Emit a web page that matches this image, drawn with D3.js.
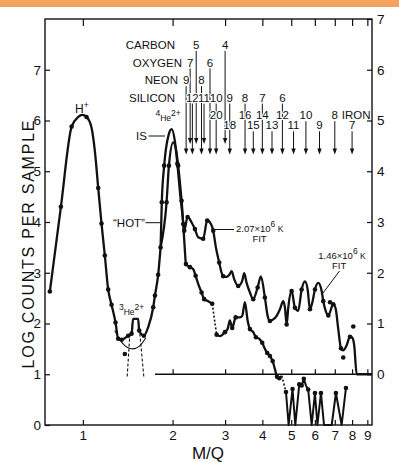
<!DOCTYPE html>
<html><head><meta charset="utf-8">
<script src="https://cdn.jsdelivr.net/npm/d3@7"></script>
<style>
body{margin:0;background:#fff}
svg text{font-family:"Liberation Sans",Arial,sans-serif;fill:#111}
.tick text{font-size:13.5px}
</style></head><body>
<svg id="chart" width="399" height="463"></svg>
<script>
// ---------------- DATA ----------------
const xTicks = [1,2,3,4,5,6,7,8,9];
const xTickLabels = ["1","2","3","4","5","6","7","8","9"];
const leftTicks = [0,1,2,3,4,5,6,7];
const rightTicks = [0,1,2,3,4,5,6,7];
const zeroLineTicks = [2,3,4,5,6,7,8,9];

// main spectrum H+ -> 3He -> rise of 4He : [M/Q, log counts] (measured points)
const mainPoints = [[0.775,2.63],[0.844,4.30],[0.917,5.88],[1.029,6.07],[1.126,4.67],[1.155,3.97],[1.185,3.34],[1.216,2.67],[1.248,2.37],[1.287,2.02],[1.314,1.70],[1.349,1.68],[1.419,1.76],[1.457,1.80],[1.545,1.86],[1.602,1.76],[1.722,2.32],[1.745,2.55],[1.789,2.96],[1.823,3.50]];
const mainKnots = [[0.965,6.07],[0.995,6.11],[1.069,5.86],[1.097,5.40],[1.474,2.09],[1.533,2.09],[1.657,1.93]];

// "HOT" spectrum (2.07e6 K fit) after 4He
const hotPoints = [[1.909,4.39],[1.944,5.11],[2.088,5.11],[2.144,4.42],[2.188,3.83],[2.246,4.10],[2.376,3.86],[2.533,3.67],[2.613,4.03],[2.737,3.83],[2.867,3.20],[2.957,2.93],[3.320,2.74],[3.728,2.48],[3.857,2.71],[4.080,2.51],[4.241,2.05],[4.826,1.98],[5.015,2.64],[5.145,2.31],[5.419,2.67],[5.778,2.28],[6.005,2.67],[6.404,2.44],[6.658,2.16],[6.918,2.38],[7.342,1.51],[7.870,1.74]];
const hotKnots = [[1.823,3.50],[2.009,5.57],[2.05,5.45],[2.317,3.99],[2.437,3.70],[2.689,3.96],[2.794,3.50],[2.920,3.00],[3.036,2.92],[3.090,2.95],[3.155,3.03],[3.220,2.87],[3.424,2.84],[3.477,2.99],[3.542,2.80],[3.634,2.61],[3.956,2.93],[4.167,2.15],[4.351,2.08],[4.467,2.15],[4.582,2.28],[4.702,2.44],[4.764,2.31],[4.886,2.31],[5.278,2.25],[5.559,2.83],[5.676,2.67],[5.882,2.41],[6.161,2.80],[6.324,2.64],[6.524,2.25],[7.047,2.29],[7.190,1.89],[7.473,1.47],[7.672,1.57],[8.011,1.72],[8.136,1.56],[8.288,1.0],[9.33,1.0]];

// "IS" spectrum after 4He
const isPointsA = [[1.840,4.39],[1.874,5.11],[2.075,5.15],[2.171,3.96],[2.217,3.17],[2.287,3.11],[2.389,2.94],[2.502,2.61],[2.553,2.48],[2.716,2.39]];
const isKnotsA = [[1.823,3.50],[1.94,5.72],[1.985,5.83],[2.035,5.60],[2.12,4.55],[2.199,3.44],[2.346,3.07],[2.437,2.78],[2.633,2.44]];
const isGap1 = [[2.716,2.39],[2.810,1.78]];
const isPointsB = [[2.810,1.78],[2.996,1.83],[3.170,1.91],[3.255,2.12],[3.634,1.89],[3.806,1.73],[3.996,1.62],[4.154,1.42],[4.241,1.36],[4.331,1.26],[4.48,0.95],[4.558,0.92]];
const isKnotsB = [[2.882,1.75],[3.059,1.89],[3.114,2.06],[3.364,2.12],[3.424,2.15],[3.496,2.42],[3.570,2.06],[3.728,1.83],[3.90,1.70],[4.08,1.50],[4.409,1.10],[4.645,0.97]];
const isGap2 = [[4.645,0.97],[4.801,0.65]];
const isPointsC = [[4.801,0.65],[5.05,0.71],[5.32,0.80],[5.42,0.78],[5.51,0.91],[5.70,0.70],[6.005,0.63],[6.29,0.63],[7.06,0.63],[7.63,0.73]];
const isKnotsC = [[4.90,0],[5.16,0],[5.60,0.78],[5.855,0],[6.12,0],[6.44,0],[6.835,0],[7.38,0]];

const loneDots = [[1.383,1.40],[6.746,2.42],[7.473,1.33],[8.074,1.94]];

// fits around 3He
const tailFit = [[1.280,1.86],[1.365,1.56],[1.457,1.48],[1.553,1.53],[1.627,1.72]];
const he3FitLeft = [[1.438,1.80],[1.408,0.94]];
const he3FitRight = [[1.553,1.80],[1.602,0.94]];

// ion positions (M/Q) and charge labels
const carbonCharges = [5,4];           const carbonMQ = [2.40,3.00];
const oxygenCharges = [7,6];           const oxygenMQ = [2.29,2.67];
const neonCharges = [9,8];             const neonMQ = [2.22,2.50];
const siliconCharges = [12,11,10,9,8,7,6];
const siliconMQ = [2.33,2.55,2.80,3.11,3.50,4.00,4.67];
const ironCharges = [20,18,16,15,14,13,12,11,10,9,8,7];
const ironMQ = [2.80,3.11,3.50,3.73,4.00,4.31,4.67,5.09,5.60,6.22,7.00,8.00];

// ---------------- CHART ----------------
const svg = d3.select("#chart");
const L=45,R=372,T=19,B=425;
const x = d3.scaleLog().domain([0.7465,9.33]).range([L,R]);
const y = d3.scaleLinear().domain([0,8]).range([B,T]);
const yR = d3.scaleLinear().domain([-1,7]).range([B,T]);
const ink = "#111";

svg.append("rect").attr("x",0).attr("y",0).attr("width",399).attr("height",7).attr("fill","#f5a45d");

// axes
function clean(g){ g.select(".domain").remove(); g.attr("font-family",null).attr("font-size",null); g.selectAll("line").attr("stroke",ink).attr("stroke-width",1.2); }
svg.append("g").attr("transform",`translate(${L},0)`)
  .call(d3.axisLeft(y).tickValues(leftTicks).tickSize(-5).tickPadding(4).tickFormat(d=>String(d))).call(clean);
svg.append("g").attr("transform",`translate(${R},0)`)
  .call(d3.axisRight(yR).tickValues(rightTicks).tickSize(-5).tickPadding(5).tickFormat(d=>String(d))).call(clean);
svg.append("g").attr("transform",`translate(0,${B})`)
  .call(d3.axisBottom(x).tickValues(xTicks).tickSize(-5).tickPadding(5).tickFormat((d,i)=>xTickLabels[i])).call(clean);
svg.append("g").attr("transform",`translate(0,${T})`)
  .call(d3.axisTop(x).tickValues(xTicks).tickSize(-7).tickFormat("")).call(clean);
svg.append("g").attr("transform",`translate(0,${yR(0)})`)
  .call(d3.axisTop(x).tickValues(zeroLineTicks).tickSize(5).tickFormat("")).call(clean);
svg.append("line").attr("x1",x(1.745)).attr("x2",R).attr("y1",yR(0)).attr("y2",yR(0)).attr("stroke",ink).attr("stroke-width",1.4);
svg.append("rect").attr("x",L).attr("y",T).attr("width",R-L).attr("height",B-T).attr("fill","none").attr("stroke",ink).attr("stroke-width",1.4);

// axis titles
svg.append("text").attr("x",208).attr("y",458.5).attr("text-anchor","middle").style("font-size","17px").text("M/Q");
svg.append("text").attr("transform","translate(34,244.5) rotate(-90)").attr("text-anchor","middle")
  .attr("textLength",248).attr("lengthAdjust","spacing").style("font-size","16px").text("LOG COUNTS PER SAMPLE");

// curves
const merge = (a,b)=>a.concat(b).sort((p,q)=>p[0]-q[0]);
const smooth = d3.line().x(d=>x(d[0])).y(d=>y(d[1])).curve(d3.curveMonotoneX);
const straight = d3.line().x(d=>x(d[0])).y(d=>y(d[1]));
function path(data,gen,w,dash){
  svg.append("path").attr("d",gen(data)).attr("fill","none").attr("stroke",ink)
    .attr("stroke-width",w).attr("stroke-linejoin","round").attr("stroke-dasharray",dash||null);
}
path(tailFit,d3.line().x(d=>x(d[0])).y(d=>y(d[1])).curve(d3.curveBasis),1.1);
path(he3FitLeft,straight,1.1,"3,2");
path(he3FitRight,straight,1.1,"3,2");
path(merge(mainPoints,mainKnots),smooth,2.3);
path(merge(hotPoints,hotKnots),smooth,2.3);
path(merge(isPointsA,isKnotsA),smooth,2.3);
path(isGap1,straight,1.6,"2,2");
path(merge(isPointsB,isKnotsB),smooth,2.3);
path(isGap2,straight,1.6,"2,2");
path(merge(isPointsC,isKnotsC),straight,2.0);

const allDots = [].concat(mainPoints,hotPoints,isPointsA,isPointsB,isPointsC,loneDots);
svg.append("g").selectAll("circle").data(allDots).join("circle")
  .attr("cx",d=>x(d[0])).attr("cy",d=>y(d[1])).attr("r",2.3).attr("fill",ink);

// ion arrows and labels
const rowBase = {C:49,O:66.5,Ne:84.2,Si:101.6,FeHi:119.2,FeLo:129.3};
const shortTips = new Set(["O7","C5","Si11","C4"]);
const ions = [];
carbonCharges.forEach((q,i)=>ions.push({key:"C"+q,q,mq:carbonMQ[i],row:rowBase.C}));
oxygenCharges.forEach((q,i)=>ions.push({key:"O"+q,q,mq:oxygenMQ[i],row:rowBase.O}));
neonCharges.forEach((q,i)=>ions.push({key:"Ne"+q,q,mq:neonMQ[i],row:rowBase.Ne}));
siliconCharges.forEach((q,i)=>ions.push({key:"Si"+q,q,mq:siliconMQ[i],row:rowBase.Si}));
ironCharges.forEach((q,i)=>ions.push({key:"Fe"+q,q,mq:ironMQ[i],row:i%2===0?rowBase.FeHi:rowBase.FeLo}));
const groups = d3.group(ions,d=>d.mq.toFixed(2));
const ag = svg.append("g");
for(const [k,list] of groups){
  const xx = x(+k);
  const top = d3.min(list,d=>d.row)+2;
  const tip = list.some(d=>shortTips.has(d.key)) ? 144 : 154.5;
  ag.append("line").attr("x1",xx).attr("x2",xx).attr("y1",top).attr("y2",tip-4).attr("stroke",ink).attr("stroke-width",1);
  ag.append("path").attr("d",`M${xx-2.2},${tip-6}L${xx+2.2},${tip-6}L${xx},${tip}Z`).attr("fill",ink);
}
const lab = svg.append("g").style("font-size","11.5px");
lab.selectAll("text.q").data(ions).join("text").attr("class","q")
  .attr("x",d=>x(d.mq)).attr("y",d=>d.row).attr("text-anchor","middle")
  .attr("stroke","#fff").attr("stroke-width",2.2).attr("paint-order","stroke").attr("stroke-linejoin","round")
  .text(d=>d.q);
[["CARBON",175,rowBase.C],["OXYGEN",182,rowBase.O],["NEON",178,rowBase.Ne],["SILICON",175,rowBase.Si]]
  .forEach(([t,xx,yy])=>lab.append("text").attr("x",xx).attr("y",yy).attr("text-anchor","end").text(t));
lab.append("text").attr("x",x(8.0)+4).attr("y",118.8).attr("text-anchor","middle")
  .attr("stroke","#fff").attr("stroke-width",2.2).attr("paint-order","stroke").text("IRON");

// peak annotations
function sup(sel,parts){
  parts.forEach(([t,s])=>{
    sel.append("tspan").text(t).style("font-size",s?"8.5px":null).attr("dy",s===1?-5:(s===-1?5:0));
  });
}
const a1 = svg.append("text").attr("x",75).attr("y",113.3).style("font-size","12px");
sup(a1,[["H",0],["+",1]]);
const a2 = svg.append("text").attr("x",155.5).attr("y",120.7).style("font-size","12px");
sup(a2,[["4",1],["He",-1],["2+",1]]);
const a3 = svg.append("text").attr("x",119).attr("y",315).style("font-size","12px");
sup(a3,[["3",1],["He",-1],["2+",1]]);
svg.append("text").attr("x",136).attr("y",140.3).style("font-size","11.5px").text("IS");
svg.append("line").attr("x1",148.5).attr("x2",165).attr("y1",136).attr("y2",136).attr("stroke",ink).attr("stroke-width",1);
svg.append("text").attr("x",113).attr("y",226.8).style("font-size","11.5px").text("\u201CHOT\u201D");
svg.append("line").attr("x1",145.5).attr("x2",161.5).attr("y1",222.7).attr("y2",222.7).attr("stroke",ink).attr("stroke-width",1);

const f1 = svg.append("text").attr("x",236).attr("y",232).style("font-size","9.5px");
sup(f1,[["2.07×10",0],["6",1],[" K",-1]]);
svg.append("text").attr("x",259.5).attr("y",241.7).attr("text-anchor","middle").style("font-size","9.5px").text("FIT");
svg.append("line").attr("x1",215).attr("x2",234).attr("y1",229.5).attr("y2",229.5).attr("stroke",ink).attr("stroke-width",1);
const f2 = svg.append("text").attr("x",318.3).attr("y",259.3).style("font-size","9.5px");
sup(f2,[["1.46×10",0],["6",1],[" K",-1]]);
svg.append("text").attr("x",339.2).attr("y",269.3).attr("text-anchor","middle").style("font-size","9.5px").text("FIT");
svg.append("line").attr("x1",339.5).attr("x2",323).attr("y1",271).attr("y2",293).attr("stroke",ink).attr("stroke-width",1);
</script>
</body></html>
